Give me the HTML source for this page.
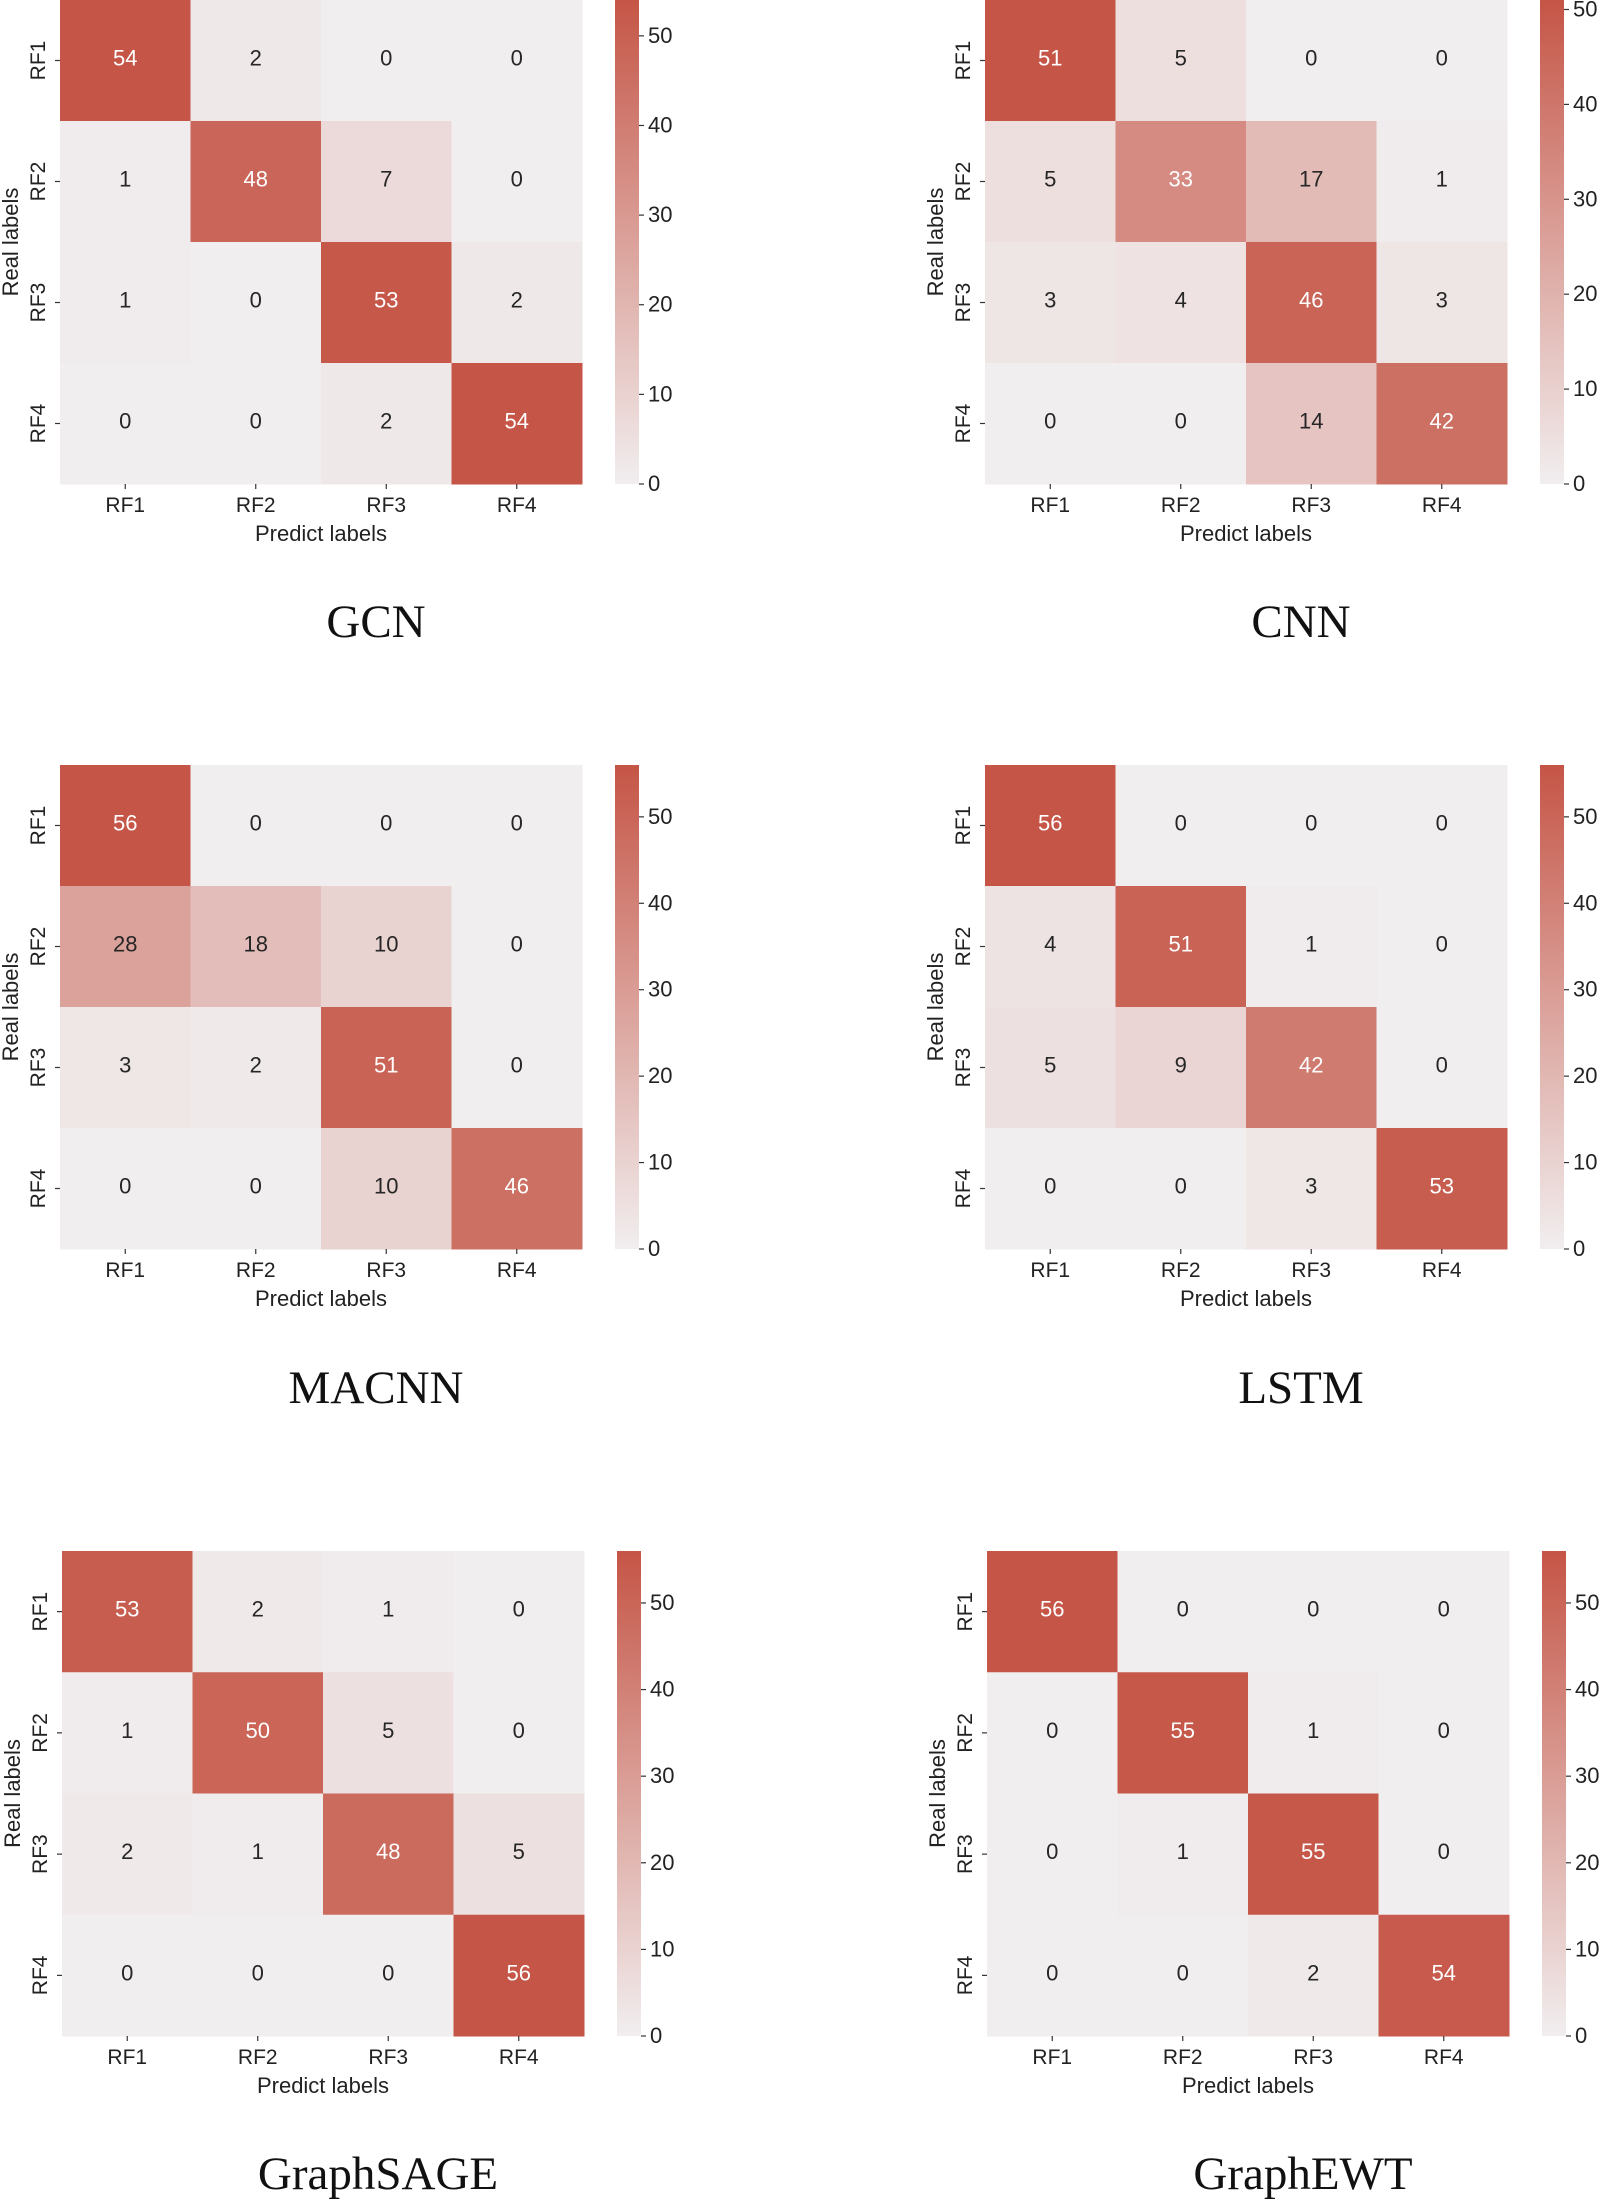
<!DOCTYPE html>
<html><head><meta charset="utf-8"><style>
html,body{margin:0;padding:0;background:#fff;}
svg{display:block;}
text{font-family:"Liberation Sans","DejaVu Sans",sans-serif;}
.title{font-family:"Liberation Serif",serif;}
</style></head><body>
<svg id="chart" width="1600" height="2200" viewBox="0 0 1600 2200" xmlns="http://www.w3.org/2000/svg"></svg>
<script>
const categories = ["RF1","RF2","RF3","RF4"];
const modelNames = ["GCN","CNN","MACNN","LSTM","GraphSAGE","GraphEWT"];
const gcnValues = [[54,2,0,0],[1,48,7,0],[1,0,53,2],[0,0,2,54]];
const cnnValues = [[51,5,0,0],[5,33,17,1],[3,4,46,3],[0,0,14,42]];
const macnnValues = [[56,0,0,0],[28,18,10,0],[3,2,51,0],[0,0,10,46]];
const lstmValues = [[56,0,0,0],[4,51,1,0],[5,9,42,0],[0,0,3,53]];
const graphsageValues = [[53,2,1,0],[1,50,5,0],[2,1,48,5],[0,0,0,56]];
const graphewtValues = [[56,0,0,0],[0,55,1,0],[0,1,55,0],[0,0,2,54]];
const colorbarTicks = [0,10,20,30,40,50];

const matrices = [gcnValues,cnnValues,macnnValues,lstmValues,graphsageValues,graphewtValues];
const panelBoxes = [
  {x0:60,x1:582,y0:0,y1:484,tx:376,ty:637},
  {x0:985,x1:1507,y0:0,y1:484,tx:1301,ty:637},
  {x0:60,x1:582,y0:765,y1:1249,tx:376,ty:1403},
  {x0:985,x1:1507,y0:765,y1:1249,tx:1301,ty:1403},
  {x0:62,x1:584,y0:1551,y1:2036,tx:378,ty:2189},
  {x0:987,x1:1509,y0:1551,y1:2036,tx:1303,ty:2189}
];
const NS="http://www.w3.org/2000/svg";
const svg=document.getElementById('chart');
const lo=[241,238,239], hi=[197,85,70];
function col(t){t=Math.max(0,Math.min(1,t));return 'rgb('+lo.map((c,i)=>Math.round(c+(hi[i]-c)*t)).join(',')+')';}
function mk(tag,attrs,parent){const e=document.createElementNS(NS,tag);for(const k in attrs)e.setAttribute(k,attrs[k]);(parent||svg).appendChild(e);return e;}

matrices.forEach((m,p)=>{
  const b=panelBoxes[p];
  const vmax=Math.max(...m.flat());
  const g=mk('g',{});
  
  
  const n=categories.length;
  const cw=(b.x1-b.x0)/n, ch=(b.y1-b.y0)/n;
  const xs=i=>b.x0+i*cw, ys=j=>b.y0+j*ch;
  m.forEach((row,r)=>row.forEach((v,c)=>{
    const rect=mk('rect',{x:xs(c),y:ys(r),width:cw+0.5,height:ch+0.5,fill:col(v/vmax)},g);
    
    
    const t=mk('text',{x:xs(c)+cw/2,y:ys(r)+ch/2+5,'text-anchor':'middle','font-size':22,fill:(v/vmax>0.55)?'#fff':'#262626'},g);
    t.textContent=v;
    
    
  }));
  categories.forEach((c,i)=>{
    const cx=xs(i)+cw/2;
    mk('line',{x1:cx,x2:cx,y1:b.y1,y2:b.y1+5,stroke:'#333','stroke-width':1.2},g);
    const t=mk('text',{x:cx,y:b.y1+28,'text-anchor':'middle','font-size':21,fill:'#222'},g);
    t.textContent=c;
    
    
    const cy=ys(i)+ch/2;
    mk('line',{x1:b.x0-5,x2:b.x0,y1:cy,y2:cy,stroke:'#333','stroke-width':1.2},g);
    const ty=mk('text',{x:0,y:0,'text-anchor':'middle','font-size':21,fill:'#222',transform:'translate('+(b.x0-15)+','+cy+') rotate(-90)'},g);
    ty.textContent=c;
    
    
  });
  const xl=mk('text',{x:(b.x0+b.x1)/2,y:b.y1+57,'text-anchor':'middle','font-size':22,fill:'#222'},g);
  xl.textContent='Predict labels';
  
  
  const yl=mk('text',{x:0,y:0,'text-anchor':'middle','font-size':22,fill:'#222',transform:'translate('+(b.x0-42)+','+((b.y0+b.y1)/2)+') rotate(-90)'},g);
  yl.textContent='Real labels';
  
  
  const cbx=b.x0+555, cbw=24, H=b.y1-b.y0;
  const gid='grad'+p;
  const defs=mk('defs',{},g);
  const lg=mk('linearGradient',{id:gid,x1:0,y1:1,x2:0,y2:0},defs);
  mk('stop',{offset:'0',"stop-color":col(0)},lg);
  mk('stop',{offset:'1',"stop-color":col(1)},lg);
  const cb=mk('rect',{x:cbx,y:b.y0,width:cbw,height:H,fill:'url(#'+gid+')'},g);
  
  
  colorbarTicks.forEach(tv=>{
    const y=b.y1-tv/vmax*H;
    mk('line',{x1:cbx+cbw,x2:cbx+cbw+5,y1:y,y2:y,stroke:'#333','stroke-width':1.2},g);
    const t=mk('text',{x:cbx+cbw+9,y:y+7,'font-size':22,fill:'#222'},g);
    t.textContent=tv;
    
    
  });
  const tt=mk('text',{x:b.tx,y:b.ty,'text-anchor':'middle','font-size':47,fill:'#111',class:'title'},g);
  tt.textContent=modelNames[p];
  
  
});
</script>
</body></html>
